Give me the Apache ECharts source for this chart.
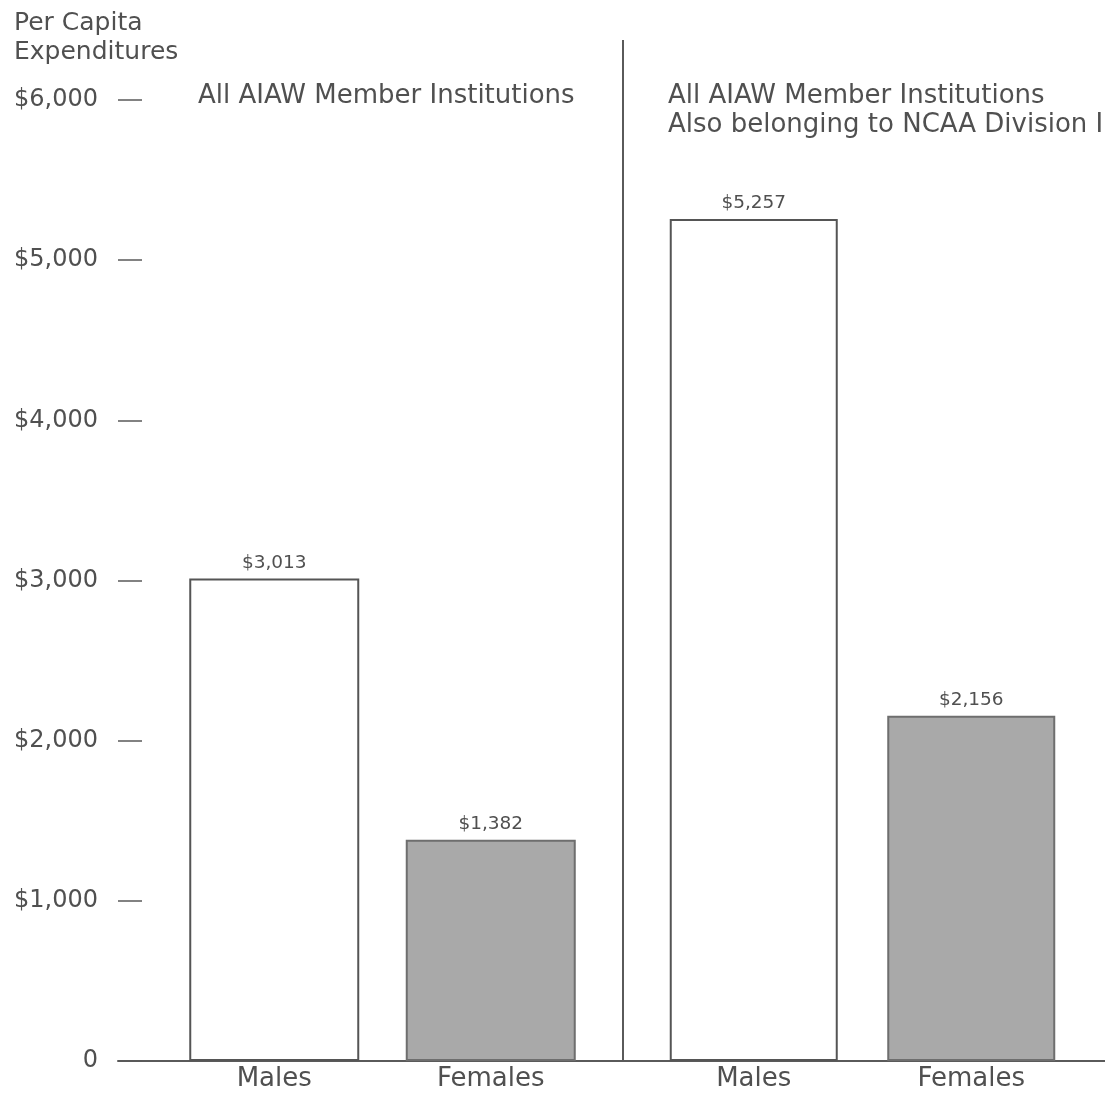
<!DOCTYPE html>
<html>
<head>
<meta charset="utf-8">
<script src="https://cdn.jsdelivr.net/npm/echarts@6/dist/echarts.min.js"></script>
<style>
  html, body { margin: 0; padding: 0; background: #ffffff; }
  #chart { width: 1105px; height: 1099px; }
</style>
</head>
<body>
<div id="chart"></div>
<script>
// ---- Data ----
const categories = ['Males', 'Females'];
const allAiawValues = [3013, 1382];          // All AIAW Member Institutions
const divisionIValues = [5257, 2156];        // AIAW members also in NCAA Division I
const panelTitles = [
  'All AIAW Member Institutions',
  'All AIAW Member Institutions\nAlso belonging to NCAA Division I'
];
const yAxisTitle = 'Per Capita\nExpenditures';
const yMin = 0, yMax = 6000, yStep = 1000;

// ---- Styling ----
const FONT = 'DejaVu Sans';
const TEXT = '#505050';
const LINE = '#5a5a5a';
const fills = ['#ffffff', '#a9a9a9'];
const borders = ['#555555', '#6e6e6e'];

function money(v) { return v === 0 ? '0' : '$' + Number(v).toLocaleString('en-US'); }
function barData(vals) {
  return vals.map((v, i) => ({
    value: v,
    itemStyle: { color: fills[i], borderColor: borders[i], borderWidth: 2 }
  }));
}

const TOP = 100, BOTTOM = 38;

const chart = echarts.init(document.getElementById('chart'), null, { renderer: 'canvas' });
chart.setOption({
  backgroundColor: '#ffffff',
  animation: false,
  title: [
    { text: yAxisTitle, left: 14, top: 9, padding: 0,
      textStyle: { fontFamily: FONT, fontSize: 25, fontWeight: 'normal', color: TEXT, lineHeight: 29 } },
    { text: panelTitles[0], left: 198, top: 82, padding: 0,
      textStyle: { fontFamily: FONT, fontSize: 26, fontWeight: 'normal', color: TEXT, lineHeight: 29 } },
    { text: panelTitles[1], left: 668, top: 82, padding: 0,
      textStyle: { fontFamily: FONT, fontSize: 26, fontWeight: 'normal', color: TEXT, lineHeight: 29 } }
  ],
  grid: [
    { left: 118, right: 0, top: TOP, bottom: BOTTOM },      // axis frame
    { left: 166, width: 433, top: TOP, bottom: BOTTOM },    // left panel
    { left: 645, width: 435, top: TOP, bottom: BOTTOM }     // right panel
  ],
  xAxis: [
    { gridIndex: 0, type: 'value', min: 0, max: 1, show: true,
      axisLine: { show: true, onZero: false, lineStyle: { color: LINE, width: 2 } },
      axisTick: { show: false }, axisLabel: { show: false }, splitLine: { show: false } },
    { gridIndex: 1, type: 'category', data: categories,
      axisLine: { show: false }, axisTick: { show: false },
      axisLabel: { fontFamily: FONT, fontSize: 26, color: TEXT, margin: 5 } },
    { gridIndex: 2, type: 'category', data: categories,
      axisLine: { show: false }, axisTick: { show: false },
      axisLabel: { fontFamily: FONT, fontSize: 26, color: TEXT, margin: 5 } }
  ],
  yAxis: [
    { gridIndex: 0, type: 'value', min: yMin, max: yMax, interval: yStep,
      axisLine: { show: false },
      axisTick: { show: true, inside: true, length: 24, lineStyle: { color: LINE, width: 1.5 } },
      axisLabel: { fontFamily: FONT, fontSize: 24, color: TEXT, margin: 20, formatter: money },
      splitLine: { show: false } },
    { gridIndex: 1, type: 'value', min: yMin, max: yMax, show: false },
    { gridIndex: 2, type: 'value', min: yMin, max: yMax, show: false }
  ],
  series: [
    { type: 'bar', xAxisIndex: 1, yAxisIndex: 1, barWidth: 170,
      data: barData(allAiawValues),
      label: { show: true, position: 'top', distance: 6, fontFamily: FONT, fontSize: 18.5, color: TEXT,
        formatter: p => money(p.value) } },
    { type: 'bar', xAxisIndex: 2, yAxisIndex: 2, barWidth: 168,
      data: barData(divisionIValues),
      label: { show: true, position: 'top', distance: 6, fontFamily: FONT, fontSize: 18.5, color: TEXT,
        formatter: p => money(p.value) } }
  ],
  graphic: [
    { type: 'line', shape: { x1: 623, y1: 40, x2: 623, y2: 1061 },
      style: { stroke: LINE, lineWidth: 2 }, z: 10 }
  ]
});
</script>
</body>
</html>
